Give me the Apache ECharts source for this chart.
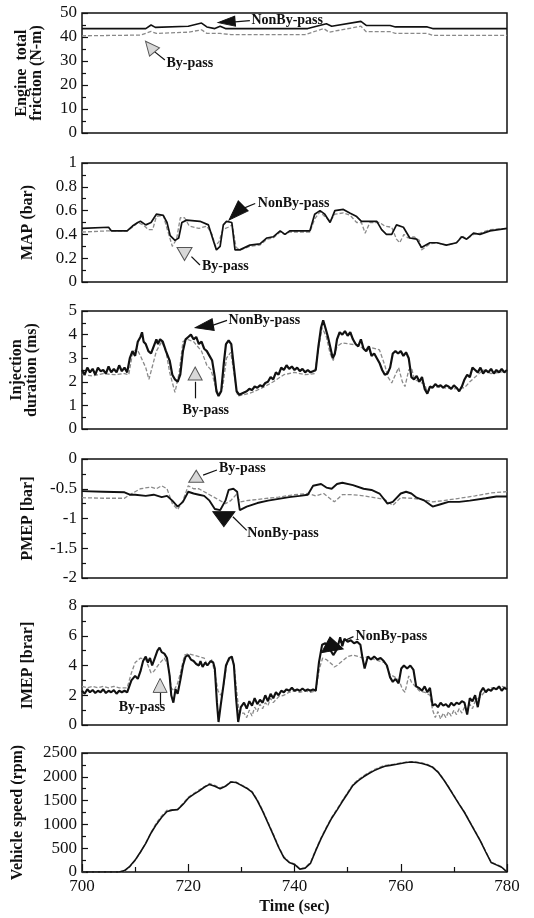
<!DOCTYPE html>
<html>
<head>
<meta charset="utf-8">
<script src="https://cdn.jsdelivr.net/npm/echarts/dist/echarts.min.js"></script>
<style>
html, body { margin: 0; padding: 0; background: #fff; }
#chart { width: 534px; height: 918px; }
</style>
</head>
<body>
<div id="chart"></div>
<script>
// values, [time (s), value]
const frictionNon = [[700,43.5],[712,43.5],[713,45],[713.8,44],[720,44.5],[722.5,45.8],[723.5,44.2],[725,43.5],[726,44.5],[727,43.5],[742.5,43.5],[746,45.5],[747,44.5],[752.5,46.5],[753.5,44.8],[758,44.8],[759,44.2],[765,44.2],[766,43.5],[780,43.5]]
const frictionBy = [[700,40.5],[711,40.8],[713,42.3],[714,41.5],[720,42],[722.5,43],[723.5,41.5],[726,41.5],[728,41],[742,41],[745.5,43.5],[746.5,42],[752.5,44.5],[753.5,42.2],[758,42.2],[759,41.5],[765,41.5],[766,40.7],[780,40.7]]

const mapNon = [[700,0.45],[705,0.46],[705.5,0.43],[708.5,0.43],[709.5,0.47],[710.5,0.5],[711,0.51],[712,0.48],[713,0.5],[714,0.57],[715.3,0.56],[716,0.5],[716.6,0.39],[717.5,0.35],[718.2,0.37],[718.8,0.5],[719.7,0.52],[722.2,0.51],[723.8,0.48],[724.7,0.35],[725.3,0.27],[726,0.3],[726.6,0.48],[727.2,0.51],[728.2,0.5],[728.8,0.27],[729.7,0.27],[731.6,0.31],[733.5,0.32],[734.8,0.37],[736,0.38],[737.3,0.43],[738.2,0.4],[739.1,0.43],[742.9,0.43],[743.8,0.57],[744.8,0.6],[745.7,0.57],[746.7,0.5],[747.6,0.6],[749.2,0.61],[750.4,0.58],[751.7,0.55],[752.6,0.51],[755.5,0.51],[756.4,0.44],[757.3,0.4],[758.3,0.4],[759.2,0.48],[760.5,0.46],[761.7,0.37],[763,0.36],[763.9,0.29],[765.5,0.33],[766.8,0.33],[768.6,0.31],[770.5,0.33],[771.5,0.38],[772.4,0.36],[773.7,0.41],[774.9,0.4],[776.8,0.43],[780,0.45]]
const mapBy = [[700,0.42],[705,0.43],[708.5,0.43],[709.5,0.46],[710.5,0.5],[711.5,0.48],[712.5,0.44],[713.3,0.44],[714,0.55],[715.3,0.56],[716,0.45],[717,0.3],[717.8,0.36],[718.5,0.54],[719.3,0.54],[720.2,0.47],[722,0.45],[723.5,0.47],[724.5,0.4],[725.1,0.3],[725.8,0.34],[726.5,0.44],[727.5,0.46],[728.3,0.48],[729,0.29],[729.8,0.27],[731.6,0.3],[733.5,0.31],[734.8,0.36],[736,0.37],[737.3,0.42],[738.2,0.4],[739.1,0.42],[742.9,0.42],[743.8,0.53],[744.8,0.59],[745.7,0.55],[746.7,0.51],[747.6,0.57],[749.2,0.58],[750.5,0.56],[751.7,0.5],[752.6,0.5],[753.3,0.41],[754.2,0.5],[756,0.5],[757,0.47],[758.3,0.46],[759.2,0.36],[759.8,0.33],[760.6,0.4],[761.4,0.37],[762.5,0.38],[763.5,0.35],[763.9,0.27],[765.5,0.32],[766.8,0.33],[768.6,0.31],[770.5,0.33],[771.5,0.39],[772.4,0.36],[773.7,0.4],[774.9,0.41],[776.8,0.44],[780,0.45]]

const injNon = [[700,2.5],[700.5,2.3],[701,2.6],[701.5,2.4],[702,2.55],[702.5,2.3],[703,2.6],[703.5,2.45],[704,2.5],[704.5,2.35],[705,2.65],[705.5,2.4],[706,2.55],[706.5,2.4],[707,2.7],[707.5,2.45],[708,2.6],[708.5,2.4],[709,3.0],[709.5,3.3],[710,3.1],[710.5,3.7],[711,3.9],[711.3,4.1],[711.6,3.7],[712,3.6],[712.5,3.3],[713,3.2],[713.5,3.5],[714,3.8],[714.3,3.6],[714.7,3.8],[715.2,3.7],[715.8,3.3],[716.5,2.9],[717,2.3],[717.5,2.1],[718,2.0],[718.5,2.3],[719,3.3],[719.5,3.8],[720,3.9],[720.5,4.0],[721,3.8],[721.5,3.9],[722,3.6],[722.5,3.7],[723,3.4],[723.5,3.3],[724,3.1],[724.5,2.9],[725,2.2],[725.3,1.6],[725.7,1.4],[726.2,1.6],[726.7,2.8],[727.1,3.6],[727.6,3.75],[728.1,3.6],[728.6,2.6],[729.1,1.6],[729.6,1.45],[730.5,1.55],[731,1.6],[731.5,1.7],[732,1.65],[732.5,1.8],[733,1.75],[733.5,1.85],[734,1.8],[734.5,1.95],[735,2.0],[735.5,2.2],[736,2.1],[736.5,2.4],[737,2.3],[737.5,2.6],[738,2.5],[738.5,2.7],[739,2.55],[739.5,2.65],[740,2.5],[740.5,2.6],[741,2.45],[741.5,2.55],[742,2.4],[742.5,2.5],[743,2.4],[743.5,2.45],[744,2.5],[744.5,3.5],[745,4.3],[745.4,4.6],[745.8,4.3],[746.3,3.9],[746.8,3.4],[747.2,3.0],[747.6,3.2],[748,3.8],[748.5,4.1],[749,4.0],[749.5,4.15],[750,3.95],[750.5,4.1],[751,3.8],[751.5,3.6],[752,3.5],[752.5,3.8],[753,3.4],[753.5,3.3],[754,3.5],[754.5,3.1],[755,3.2],[755.5,3.0],[756,2.8],[756.5,2.5],[757,2.3],[757.5,2.35],[758,2.6],[758.5,3.2],[759,3.3],[759.5,3.2],[760,3.3],[760.5,3.1],[761,3.25],[761.5,3.0],[762,2.2],[762.5,2.1],[763,2.25],[763.5,2.0],[764,2.2],[764.5,1.7],[765,1.5],[765.5,1.8],[766,1.75],[766.5,1.9],[767,1.8],[767.5,1.85],[768,1.75],[768.5,1.85],[769,1.8],[769.5,1.7],[770,1.85],[770.5,1.75],[771,1.6],[771.5,1.8],[772,2.1],[772.5,2.3],[773,2.2],[773.5,2.6],[774,2.5],[774.5,2.4],[775,2.6],[775.5,2.35],[776,2.5],[776.5,2.4],[777,2.55],[777.5,2.35],[778,2.5],[778.5,2.4],[779,2.55],[779.5,2.4],[780,2.5]]
const injBy = [[700,2.3],[702,2.25],[704,2.35],[706,2.3],[708,2.35],[708.8,2.3],[709.5,3.2],[710.3,3.4],[711,3.1],[712,2.6],[712.6,2.1],[713.3,2.7],[714,3.3],[715,3.7],[715.8,3.3],[716.5,2.4],[717.5,1.55],[718.3,2.4],[719,3.7],[719.8,3.8],[721,3.7],[722.5,3.3],[723.5,2.7],[724.3,2.5],[725,1.9],[725.7,1.45],[726.5,1.8],[727.2,3.0],[728,3.25],[728.6,2.4],[729.3,1.4],[730.5,1.45],[732,1.55],[734,1.75],[736,2.0],[738,2.3],[740,2.4],[742,2.3],[743.8,2.35],[744.5,3.4],[745.2,4.3],[746,3.9],[746.7,3.2],[747.3,2.9],[748,3.5],[749,3.65],[750.5,3.6],[752,3.55],[753,3.4],[754.5,3.45],[756,3.35],[757,2.7],[757.6,2.2],[758.3,1.95],[759,2.3],[759.6,2.6],[760.3,2.0],[760.8,1.8],[761.5,2.5],[762,2.6],[762.6,2.1],[763.5,2.0],[764.5,1.9],[765,1.55],[766,1.8],[768,1.75],[770,1.7],[772,1.75],[773,2.0],[774.5,2.3],[775.5,2.5],[777,2.35],[780,2.45]]

const pmepNon = [[700,-0.54],[704,-0.55],[708,-0.56],[709,-0.6],[710,-0.6],[712,-0.62],[713.5,-0.6],[715,-0.64],[716,-0.62],[717,-0.7],[718,-0.8],[719,-0.72],[720,-0.55],[721,-0.58],[722,-0.6],[723,-0.62],[724,-0.7],[725,-0.84],[726,-0.86],[727,-0.7],[727.6,-0.52],[728.5,-0.5],[729.2,-0.55],[729.7,-0.86],[731,-0.8],[733,-0.74],[735,-0.7],[737,-0.67],[739,-0.64],[741,-0.62],[742.5,-0.6],[743.5,-0.45],[745,-0.42],[746,-0.48],[747,-0.5],[748,-0.42],[749,-0.4],[751,-0.44],[753,-0.5],[754.5,-0.52],[756,-0.58],[757.5,-0.75],[758.5,-0.72],[760,-0.58],[761,-0.55],[762,-0.58],[763,-0.65],[764.5,-0.7],[766,-0.8],[767.5,-0.76],[769,-0.72],[771,-0.72],[773,-0.7],[776,-0.66],[778,-0.63],[780,-0.63]]
const pmepBy = [[700,-0.65],[704,-0.66],[708,-0.66],[709,-0.6],[710,-0.55],[711,-0.5],[713,-0.47],[714,-0.5],[715,-0.45],[716,-0.5],[717,-0.75],[718,-0.85],[719,-0.7],[720,-0.45],[721,-0.5],[722,-0.5],[723,-0.55],[724,-0.6],[725,-0.65],[726,-0.7],[727,-0.75],[728,-0.7],[729,-0.6],[729.8,-0.72],[731,-0.7],[733,-0.68],[735,-0.66],[737,-0.64],[740,-0.6],[742.5,-0.58],[744,-0.62],[745.5,-0.58],[747.5,-0.72],[749,-0.6],[751,-0.6],[753,-0.62],[755,-0.65],[757,-0.68],[758.5,-0.78],[760,-0.65],[762,-0.66],[764,-0.68],[766,-0.72],[768,-0.7],[771,-0.66],[774,-0.62],[777,-0.57],[780,-0.55]]

const imepNon = [[700,2.3],[700.5,2.1],[701,2.4],[701.5,2.2],[702,2.35],[702.5,2.15],[703,2.3],[703.5,2.2],[704,2.4],[704.5,2.15],[705,2.3],[705.5,2.2],[706,2.35],[706.5,2.1],[707,2.3],[707.5,2.2],[708,2.3],[708.5,2.2],[709.3,3.0],[710,3.3],[710.5,3.1],[711,3.6],[711.5,4.3],[712,4.6],[712.4,4.2],[712.8,4.5],[713.2,4.0],[713.6,4.4],[714.2,5.0],[714.6,5.2],[715,4.9],[715.5,4.8],[716,4.5],[716.5,3.3],[716.8,2.0],[717.2,1.5],[717.6,2.4],[718,2.1],[718.5,3.0],[719,4.0],[719.5,4.6],[720,4.7],[720.5,4.4],[721,4.3],[721.5,4.1],[722,4.0],[722.3,4.3],[722.7,3.9],[723.2,4.2],[723.6,4.0],[724.2,4.3],[724.7,4.2],[725,3.8],[725.4,1.5],[725.7,0.2],[726.1,1.3],[726.6,2.6],[727.1,4.0],[727.7,4.5],[728.2,4.6],[728.6,4.0],[729,1.8],[729.4,0.2],[729.9,1.2],[730.5,1.5],[731,1.1],[731.5,1.6],[732,1.3],[732.5,1.8],[733,1.4],[733.5,1.7],[734,1.5],[734.5,2.0],[735,1.6],[735.5,2.1],[736,1.8],[736.5,2.2],[737,2.0],[737.5,2.3],[738,2.2],[738.5,2.4],[739,2.3],[739.5,2.5],[740,2.3],[740.5,2.4],[741,2.3],[741.5,2.45],[742,2.3],[742.5,2.4],[743,2.3],[743.5,2.4],[744,2.3],[744.6,4.2],[745.2,5.4],[745.8,5.5],[746.5,5.2],[747.3,4.7],[748,5.1],[748.6,5.9],[749,5.3],[749.4,5.8],[750,5.6],[750.6,5.7],[751.2,5.5],[751.8,5.6],[752.4,5.4],[752.8,4.5],[753.2,3.8],[753.8,4.6],[754.4,4.4],[755,4.6],[755.6,4.4],[756.2,4.5],[756.8,4.3],[757.4,4.0],[758,3.2],[758.5,2.9],[759,3.1],[759.6,2.8],[760.1,3.8],[760.6,4.0],[761.2,3.8],[761.8,4.0],[762.4,3.7],[762.9,2.6],[763.4,2.5],[764,2.3],[764.5,2.6],[765,2.2],[765.5,2.5],[766,1.3],[766.5,1.4],[767,1.2],[767.5,1.5],[768,1.3],[768.5,1.4],[769,1.2],[769.5,1.5],[770,1.3],[770.5,1.5],[771,1.4],[771.5,1.6],[772,1.5],[772.5,0.7],[773,1.8],[773.5,1.6],[774,2.0],[774.5,1.2],[775,2.2],[775.5,2.5],[776,2.2],[776.5,2.4],[777,2.3],[777.5,2.5],[778,2.4],[778.5,2.6],[779,2.3],[779.5,2.5],[780,2.4]]
const imepBy = [[700,2.6],[701,2.5],[702,2.6],[703,2.5],[704,2.6],[705,2.5],[706,2.6],[707,2.5],[708.5,2.5],[709.3,3.5],[710,4.2],[711,4.5],[712,4.4],[713,3.5],[713.5,3.6],[714.5,4.1],[715.5,4.5],[716.2,4.0],[716.8,2.5],[717.3,2.3],[718,2.8],[718.6,3.6],[719.3,4.7],[720,4.8],[721,4.7],[722,4.6],[723,4.5],[723.6,4.0],[724.4,4.4],[725,3.5],[725.6,2.3],[726.1,2.0],[726.6,2.5],[727.2,4.0],[728,4.6],[728.6,4.1],[729.2,2.0],[729.6,0.8],[730.5,0.8],[731,0.5],[731.5,1.0],[732,0.6],[732.5,1.2],[733,0.9],[733.5,1.4],[734,1.1],[734.5,1.5],[735,1.3],[735.5,1.8],[736,1.5],[737,1.9],[738,2.0],[739,2.2],[740,2.3],[741,2.2],[742,2.3],[743,2.2],[744,2.3],[744.7,3.8],[745.3,4.5],[746,4.4],[747,4.1],[747.5,3.9],[748,4.0],[749,4.3],[750,4.6],[751,4.7],[752,4.6],[753,4.5],[754,4.6],[755,4.4],[756,4.3],[757,4.2],[758,3.4],[759,3.2],[759.7,3.0],[760.3,2.4],[760.8,2.2],[761.5,3.3],[762,2.9],[762.7,2.6],[763.5,2.3],[764.5,2.2],[765.5,2.0],[766,1.0],[766.5,0.5],[767,0.9],[767.5,0.4],[768,0.8],[768.5,0.5],[769,0.9],[769.5,0.6],[770,1.0],[770.5,0.7],[771,1.1],[771.5,0.8],[772,1.2],[772.5,1.0],[773,1.4],[773.5,1.1],[774,1.6],[775,1.9],[776,2.3],[777,2.5],[778,2.4],[779,2.6],[780,2.5]]

const speedNon = [[700,0],[707,0],[708,30],[709,120],[710,250],[711,420],[712,600],[713,820],[714,1000],[715,1150],[716,1270],[717,1300],[718,1310],[719,1420],[720,1550],[721,1630],[722,1700],[723,1780],[724,1840],[725,1800],[726,1750],[727,1800],[728,1890],[729,1880],[730,1820],[731,1760],[732,1680],[733,1500],[734,1280],[735,1030],[736,780],[737,520],[738,300],[739,200],[740,160],[741,60],[742,80],[743,180],[744,450],[745,700],[746,920],[747,1130],[748,1300],[749,1480],[750,1650],[751,1820],[752,1920],[753,2000],[754,2070],[755,2130],[756,2180],[757,2220],[758,2240],[759,2260],[760,2280],[761,2300],[762,2310],[763,2300],[764,2280],[765,2250],[766,2200],[767,2100],[768,1950],[769,1780],[770,1600],[771,1420],[772,1250],[773,1050],[774,850],[775,650],[776,420],[777,200],[778,150],[779,100],[780,0]]
const speedBy = [[700,0],[707,0],[708,20],[709,110],[710,240],[711,410],[712,610],[713,830],[714,1030],[715,1180],[716,1300],[717,1310],[718,1320],[719,1440],[720,1570],[721,1650],[722,1720],[723,1790],[724,1860],[725,1820],[726,1770],[727,1810],[728,1900],[729,1890],[730,1830],[731,1770],[732,1690],[733,1520],[734,1300],[735,1050],[736,800],[737,540],[738,320],[739,210],[740,170],[741,70],[742,90],[743,200],[744,470],[745,720],[746,940],[747,1150],[748,1320],[749,1500],[750,1670],[751,1840],[752,1940],[753,2020],[754,2090],[755,2150],[756,2200],[757,2240],[758,2250],[759,2270],[760,2290],[761,2310],[762,2320],[763,2310],[764,2290],[765,2260],[766,2210],[767,2110],[768,1960],[769,1790],[770,1610],[771,1430],[772,1260],[773,1060],[774,860],[775,660],[776,430],[777,210],[778,160],[779,110],[780,0]]

const SERIF = "'Liberation Serif', 'Times New Roman', serif"
const INK = '#111'
const GREY = '#8a8a8a'

const panels = [
  { name: 'Engine  total\nfriction (N-m)', gap: 38, min: 0, max: 50, step: 10, top: 13, height: 120, width: 1.6, non: frictionNon, by: frictionBy },
  { name: 'MAP (bar)', gap: 47, min: 0, max: 1, step: 0.2, top: 163, height: 119, width: 1.7, non: mapNon, by: mapBy },
  { name: 'Injection\nduration (ms)', gap: 43, min: 0, max: 5, step: 1, top: 311, height: 118, width: 2.2, non: injNon, by: injBy },
  { name: 'PMEP [bar]', gap: 47, min: -2, max: 0, step: 0.5, top: 459, height: 119, width: 1.9, non: pmepNon, by: pmepBy },
  { name: 'IMEP [brar]', gap: 47, min: 0, max: 8, step: 2, top: 606, height: 119, width: 2.1, non: imepNon, by: imepBy },
  { name: 'Vehicle speed (rpm)', gap: 57, min: 0, max: 2500, step: 500, top: 753, height: 119, width: 1.6, non: speedNon, by: speedBy }
]

// arrow heads, shafts and labels, placed in data space of each panel
const notes = [
  [
    { head: [727.2, 46.3], rot: 95, size: [10, 17], black: true, shaft: [[728.8, 46.3], [731.6, 46.8]], text: 'NonBy-pass', at: [731.8, 46.8] },
    { head: [712.8, 36], rot: 40, size: [13, 14], black: false, shaft: [[713.7, 33.8], [715.6, 30.4]], text: 'By-pass', at: [715.8, 29] }
  ],
  [
    { head: [729.0, 0.58], rot: 135, size: [14, 20], black: true, shaft: [[729.9, 0.61], [732.6, 0.66]], text: 'NonBy-pass', at: [733, 0.66] },
    { head: [719.3, 0.235], rot: 180, size: [15, 13], black: false, shaft: [[720.6, 0.213], [722.2, 0.143]], text: 'By-pass', at: [722.5, 0.13] }
  ],
  [
    { head: [723, 4.36], rot: 100, size: [12, 18], black: true, shaft: [[724.7, 4.4], [727.3, 4.6]], text: 'NonBy-pass', at: [727.5, 4.6] },
    { head: [721.3, 2.35], rot: 0, size: [14, 13], black: false, shaft: [[721.3, 2.0], [721.3, 1.3]], text: 'By-pass', at: [718.8, 0.8] }
  ],
  [
    { head: [721.5, -0.29], rot: 0, size: [15, 12], black: false, shaft: [[722.8, -0.27], [725.4, -0.185]], text: 'By-pass', at: [725.7, -0.16] },
    { head: [726.7, -1.01], rot: 180, size: [22, 15], black: true, shaft: [[728.4, -0.97], [731, -1.2]], text: 'NonBy-pass', at: [731, -1.25] }
  ],
  [
    { head: [746.9, 5.45], rot: 10, size: [22, 14], black: true, shaft: [[748.6, 5.55], [751.1, 5.94]], text: 'NonBy-pass', at: [751.4, 5.94] },
    { head: [714.7, 2.66], rot: 0, size: [14, 14], black: false, shaft: [[714.7, 2.15], [714.7, 1.34]], text: 'By-pass', at: [706.8, 1.19] }
  ],
  []
]

function markers(list) {
  const points = []
  const lines = []
  list.forEach(n => {
    points.push({
      coord: n.head,
      symbol: 'triangle',
      symbolSize: n.size,
      symbolRotate: n.rot,
      itemStyle: { color: n.black ? INK : '#d8d8d8', borderColor: n.black ? INK : '#555', borderWidth: 1 },
      label: { show: false }
    })
    points.push({
      coord: n.at,
      symbol: 'circle',
      symbolSize: 1,
      itemStyle: { color: 'transparent' },
      label: {
        show: true, position: 'right', distance: 0, formatter: n.text,
        fontFamily: SERIF, fontWeight: 'bold', fontSize: 14, color: INK
      }
    })
    lines.push([{ coord: n.shaft[0] }, { coord: n.shaft[1] }])
  })
  return {
    markPoint: { silent: true, animation: false, data: points },
    markLine: { silent: true, animation: false, symbol: ['none', 'none'], lineStyle: { color: INK, width: 1.2, type: 'solid' }, label: { show: false }, data: lines }
  }
}

const chart = echarts.init(document.getElementById('chart'))

const last = panels.length - 1
const grid = panels.map(p => ({
  left: 82, right: 27, top: p.top, height: p.height,
  show: true, borderColor: INK, borderWidth: 1.5, backgroundColor: 'transparent'
}))

const xAxis = panels.map((p, i) => ({
  gridIndex: i, type: 'value', min: 700, max: 780, interval: 20,
  name: i === last ? 'Time (sec)' : '', nameLocation: 'middle', nameGap: 27,
  nameTextStyle: { fontFamily: SERIF, fontWeight: 'bold', fontSize: 16, color: INK },
  axisLine: { show: false },
  axisTick: { show: i === last, inside: true, length: 8, lineStyle: { color: INK, width: 1.2 } },
  minorTick: { show: i === last, splitNumber: 2, length: 5, lineStyle: { color: INK, width: 1.2 } },
  splitLine: { show: false },
  axisLabel: { show: i === last, fontFamily: SERIF, fontSize: 17, color: INK, margin: 6 }
}))

const yAxis = panels.map((p, i) => ({
  gridIndex: i, type: 'value', min: p.min, max: p.max, interval: p.step,
  name: p.name, nameLocation: 'middle', nameGap: p.gap,
  nameTextStyle: { fontFamily: SERIF, fontWeight: 'bold', fontSize: 16, color: INK, lineHeight: 15 },
  axisLine: { show: false },
  axisTick: { show: true, inside: true, length: 6, lineStyle: { color: INK, width: 1.2 } },
  minorTick: { show: true, splitNumber: 2, length: 4, lineStyle: { color: INK, width: 1.2 } },
  splitLine: { show: false },
  axisLabel: { fontFamily: SERIF, fontSize: 17, color: INK, margin: 5, formatter: v => String(v) }
}))

const series = []
panels.forEach((p, i) => {
  series.push({
    name: 'By-pass', type: 'line', xAxisIndex: i, yAxisIndex: i, data: p.by,
    showSymbol: false, animation: false,
    lineStyle: { color: GREY, width: 1.3, type: [4, 2] }
  })
  series.push(Object.assign({
    name: 'NonBy-pass', type: 'line', xAxisIndex: i, yAxisIndex: i, data: p.non,
    showSymbol: false, animation: false,
    lineStyle: { color: INK, width: p.width }
  }, markers(notes[i])))
})

chart.setOption({
  backgroundColor: '#fff',
  animation: false,
  grid,
  xAxis,
  yAxis,
  series
})
</script>
</body>
</html>
